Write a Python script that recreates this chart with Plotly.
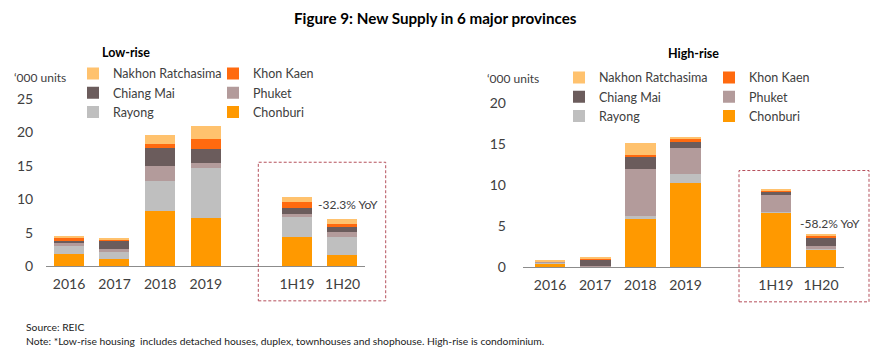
import plotly.graph_objects as go

W, H = 870, 354

categories = ["2016", "2017", "2018", "2019", "1H19", "1H20"]
cat_pos = [0, 1, 2, 3, 5, 6]  # empty slot between 2019 and 1H19

provinces = ["Chonburi", "Rayong", "Phuket", "Chiang Mai", "Khon Kaen", "Nakhon Ratchasima"]
colors = {
    "Chonburi": "#FF9900",
    "Rayong": "#BFBFBF",
    "Phuket": "#B39B9B",
    "Chiang Mai": "#6B5C5C",
    "Khon Kaen": "#FF6A0F",
    "Nakhon Ratchasima": "#FFC26E",
}

# Low-rise new supply ('000 units)
low_chonburi = [1.9, 1.1, 8.3, 7.2, 4.3, 1.75]
low_rayong = [1.1, 0.95, 4.5, 7.45, 3.05, 2.6]
low_phuket = [0.4, 0.45, 2.2, 0.8, 0.5, 0.75]
low_chiangmai = [0.35, 1.35, 2.6, 2.05, 0.85, 0.7]
low_khonkaen = [0.4, 0.2, 0.7, 1.5, 0.85, 0.5]
low_nakhon = [0.4, 0.2, 1.3, 2.0, 0.8, 0.7]

# High-rise new supply ('000 units)
high_chonburi = [0.4, 0.05, 5.85, 10.2, 6.6, 2.1]
high_rayong = [0.15, 0.0, 0.35, 1.15, 0.05, 0.1]
high_phuket = [0.05, 0.05, 5.7, 3.2, 2.05, 0.25]
high_chiangmai = [0.0, 0.7, 1.5, 0.7, 0.5, 1.05]
high_khonkaen = [0.05, 0.2, 0.3, 0.35, 0.1, 0.25]
high_nakhon = [0.15, 0.1, 1.35, 0.25, 0.1, 0.15]

low_yticks = [0, 5, 10, 15, 20, 25]
high_yticks = [0, 5, 10, 15, 20]

low = dict(zip(provinces, [low_chonburi, low_rayong, low_phuket, low_chiangmai, low_khonkaen, low_nakhon]))
high = dict(zip(provinces, [high_chonburi, high_rayong, high_phuket, high_chiangmai, high_khonkaen, high_nakhon]))

# legend column assignment (left column / right column)
col_of = {"Chonburi": 2, "Rayong": 1, "Phuket": 2, "Chiang Mai": 1, "Khon Kaen": 2, "Nakhon Ratchasima": 1}

fig = go.Figure()
for p in provinces:
    fig.add_trace(go.Bar(
        x=cat_pos, y=low[p], name=p, marker=dict(color=colors[p], line=dict(width=0)),
        width=0.66, xaxis="x", yaxis="y",
        legend="legend" if col_of[p] == 1 else "legend2",
    ))
for p in provinces:
    fig.add_trace(go.Bar(
        x=cat_pos, y=high[p], name=p, marker=dict(color=colors[p], line=dict(width=0)),
        width=0.68, xaxis="x2", yaxis="y2",
        legend="legend3" if col_of[p] == 1 else "legend4",
    ))

# positions given in target-picture pixels
TOP, HV = 8.0, 338.0

def px(x):
    return x / W

def py(y):
    return 1 - (y - TOP) / HV

font_main = "Lato, 'Open Sans', sans-serif"
txt = "#404040"

def leg(text_x, row1_center):
    return dict(
        x=px(text_x - 40), y=py(row1_center - 16), xanchor="left", yanchor="top",
        orientation="v", traceorder="reversed", bgcolor="rgba(0,0,0,0)",
        font=dict(family=font_main, size=12.5, color=txt), tracegroupgap=0,
        itemclick=False, itemdoubleclick=False,
    )

axis_common = dict(showgrid=False, zeroline=False, fixedrange=True)

fig.update_layout(
    width=W, height=H, margin=dict(l=0, r=0, t=0, b=0),
    paper_bgcolor="white", plot_bgcolor="white",
    barmode="stack", bargap=0,
    font=dict(family=font_main, color=txt),
    showlegend=True,
    legend=leg(113, 74), legend2=leg(253, 74),
    legend3=leg(599, 78), legend4=leg(749, 78),
    xaxis=dict(domain=[px(46.2), px(365.4)], range=[-0.5, 6.5], tickmode="array",
               tickvals=cat_pos, ticktext=categories, showline=True, linecolor="#8C8C8C",
               linewidth=1, ticks="", tickfont=dict(size=14, color=txt), anchor="y",
               ticklabelstandoff=5, **axis_common),
    yaxis=dict(domain=[py(266), py(98.3)], range=[0, 25], tickmode="array",
               tickvals=low_yticks, ticks="", showline=False,
               tickfont=dict(size=14, color=txt), anchor="x", ticklabelstandoff=12,
               **axis_common),
    xaxis2=dict(domain=[px(522.9), px(843.6)], range=[-0.6, 6.5], tickmode="array",
                tickvals=cat_pos, ticktext=categories, showline=True, linecolor="#8C8C8C",
                linewidth=1, ticks="", tickfont=dict(size=14, color=txt), anchor="y2",
                ticklabelstandoff=5, **axis_common),
    yaxis2=dict(domain=[py(266.7), py(102.7)], range=[0, 20], tickmode="array",
                tickvals=high_yticks, ticks="", showline=False,
                tickfont=dict(size=14, color=txt), anchor="x2", ticklabelstandoff=16,
                **axis_common),
)

annots = [
    dict(text="<b>Figure 9: New Supply in 6 major provinces</b>", x=px(435), y=py(17),
         font=dict(size=15.2, color="#000000")),
    dict(text="<b>Low-rise</b>", x=px(126), y=py(52), font=dict(size=12.5, color="#000000")),
    dict(text="<b>High-rise</b>", x=px(693), y=py(53), font=dict(size=12.5, color="#000000")),
    dict(text="‘000 units", x=px(12), y=py(77), xanchor="left", font=dict(size=12, color=txt)),
    dict(text="‘000 units", x=px(485), y=py(78), xanchor="left", font=dict(size=12, color=txt)),
    dict(text="-32.3% YoY", x=px(348), y=py(204), font=dict(size=12, color=txt)),
    dict(text="-58.2% YoY", x=px(830), y=py(223), font=dict(size=12, color=txt)),
    dict(text="Source: REIC", x=px(24), y=py(327), xanchor="left", font=dict(size=10.3, color="#222222")),
    dict(text="Note: *Low-rise housing  includes detached houses, duplex, townhouses and shophouse. High-rise is condominium.",
         x=px(24), y=py(341), xanchor="left", font=dict(size=10.3, color="#222222")),
]
for a in annots:
    a.setdefault("xanchor", "center")
    fig.add_annotation(xref="paper", yref="paper", showarrow=False, yanchor="middle",
                       **{k: v for k, v in a.items() if k != "font"},
                       font=dict(family=font_main, **a["font"]))

box_style = dict(type="rect", xref="paper", yref="paper",
                 line=dict(color="#B5505C", width=1, dash="3px,2px"), fillcolor="rgba(0,0,0,0)")
fig.add_shape(x0=px(258.3), x1=px(385.7), y0=py(300.7), y1=py(161.7), **box_style)
fig.add_shape(x0=px(739), x1=px(869), y0=py(301.7), y1=py(170), **box_style)

fig.write_html("out.html")
